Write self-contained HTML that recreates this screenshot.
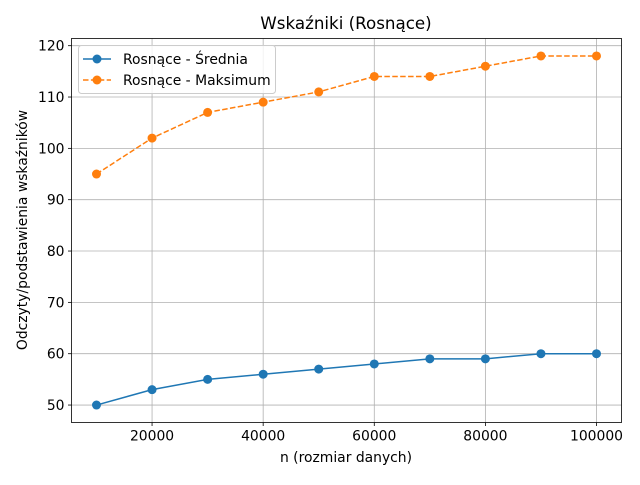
<!DOCTYPE html>
<html><head><meta charset="utf-8"><style>
body{margin:0;background:#fff;}
svg{font-family:"DejaVu Sans","Liberation Sans",sans-serif;}
</style></head><body>
<svg id="chart" width="640" height="480" xmlns="http://www.w3.org/2000/svg">
<rect width="640" height="480" fill="#fff"/>
<text x="346" y="29" text-anchor="middle" font-size="16.7">Wskaźniki (Rosnące)</text>
<g id="grid"></g>
<g id="ticks"></g>
<g id="series"></g>
<rect x="71.5" y="38.5" width="550" height="384" fill="none" stroke="#000" stroke-width="0.8"/>
<text x="346" y="462" text-anchor="middle" font-size="13.9">n (rozmiar danych)</text>
<text transform="translate(27,230) rotate(-90)" text-anchor="middle" font-size="13.9">Odczyty/podstawienia wskaźników</text>
<g>
<rect x="78.5" y="45.5" width="197" height="48" fill="#fff" fill-opacity="0.8" stroke="#ccc" rx="3"/>
<g>
<line x1="83" y1="59" x2="111" y2="59" stroke="#1f77b4" stroke-width="1.5"/>
<circle cx="97" cy="59" r="4.5" fill="#1f77b4"/>
<text x="123" y="64" font-size="13.9">Rosnące - Średnia</text></g>
<g>
<line x1="83" y1="80" x2="111" y2="80" stroke="#ff7f0e" stroke-width="1.5" stroke-dasharray="5.5,2.4"/>
<circle cx="97" cy="80" r="4.5" fill="#ff7f0e"/>
<text x="123" y="85" font-size="13.9">Rosnące - Maksimum</text></g>
</g>
</svg>
<script>
const categories=[10000,20000,30000,40000,50000,60000,70000,80000,90000,100000];
const meanValues=[50,53,55,56,57,58,59,59,60,60];
const maxValues=[95,102,107,109,111,114,114,116,118,118];
const xTicks=[20000,40000,60000,80000,100000];
const yTicks=[50,60,70,80,90,100,110,120];
const NS="http://www.w3.org/2000/svg";
const L=71.5,R=621.5,T=38.5,B=422.5;
const allV=meanValues.concat(maxValues);
const ymn=Math.min(...allV),ymx=Math.max(...allV),yp=(ymx-ymn)*0.05;
const xmn=Math.min(...categories),xmx=Math.max(...categories),xp=(xmx-xmn)*0.05;
function sx(v){return L+(v-(xmn-xp))/((xmx+xp)-(xmn-xp))*(R-L);}
function sy(v){return B-(v-(ymn-yp))/((ymx+yp)-(ymn-yp))*(B-T);}
function mk(t,a,p){const e=document.createElementNS(NS,t);for(const k in a)e.setAttribute(k,a[k]);p.appendChild(e);return e;}
const grid=document.getElementById('grid'),ticks=document.getElementById('ticks'),ser=document.getElementById('series');
xTicks.forEach(v=>{const x=sx(v);
const g=mk('line',{x1:x,x2:x,y1:T,y2:B,stroke:'#b0b0b0','stroke-width':0.8},grid);

mk('line',{x1:x,x2:x,y1:B,y2:B+3.5,stroke:'#000','stroke-width':0.8},ticks);
const t=mk('text',{x:x,y:B+18,'text-anchor':'middle','font-size':13.9},ticks);t.textContent=v;
});
yTicks.forEach(v=>{const y=sy(v);
const g=mk('line',{x1:L,x2:R,y1:y,y2:y,stroke:'#b0b0b0','stroke-width':0.8},grid);

mk('line',{x1:L-3.5,x2:L,y1:y,y2:y,stroke:'#000','stroke-width':0.8},ticks);
const t=mk('text',{x:L-7,y:y+5,'text-anchor':'end','font-size':13.9},ticks);t.textContent=v;
});
function series(vals,color,dash,name){
const pts=categories.map((c,i)=>sx(c)+','+sy(vals[i])).join(' ');
const pl=mk('polyline',{points:pts,fill:'none',stroke:color,'stroke-width':1.5},ser);
if(dash)pl.setAttribute('stroke-dasharray',dash);

categories.forEach((c,i)=>{const p=mk('circle',{cx:sx(c),cy:sy(vals[i]),r:4.5,fill:color},ser);
});}
series(meanValues,'#1f77b4',null,'mean');
series(maxValues,'#ff7f0e','5.5,2.4','max');
</script>
</body></html>
